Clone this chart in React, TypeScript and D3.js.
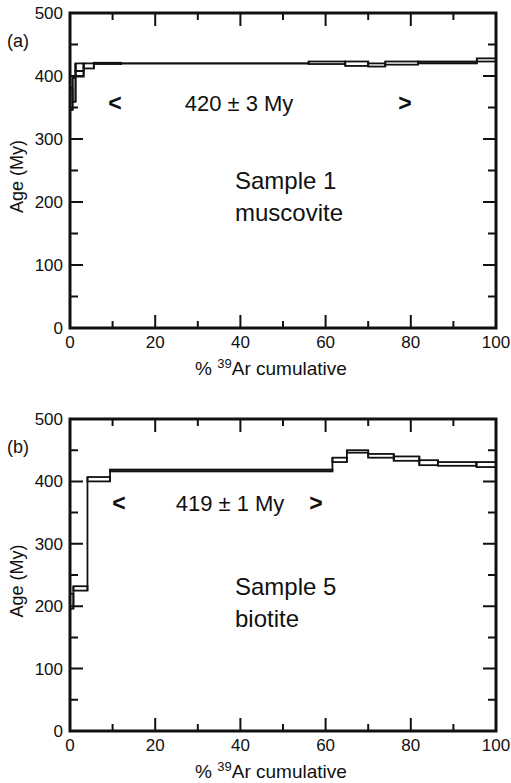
import React from 'react';
import * as d3 from 'd3';

// panel (a) – sample 1 muscovite, step boxes (cumulative % 39Ar, age range in My)
const startA = [0, 0.6, 1.3, 1.3, 3.2, 5.6, 12, 56, 64.6, 70, 74, 81.7, 95.5];
const endA = [0.6, 1.3, 3.2, 3.2, 5.6, 12, 56, 64.6, 70, 74, 81.7, 95.5, 100];
const loA = [346, 359, 408, 399, 412, 419, 419.7, 419, 416, 415, 418, 420, 423];
const hiA = [381, 397, 420, 408, 420, 421, 420.3, 423, 423, 420, 423, 423, 428];

// panel (b) – sample 5 biotite
const startB = [0, 0.8, 4.1, 9.4, 61.6, 65, 70, 76, 82, 86.4, 95.4];
const endB = [0.8, 4.1, 9.4, 61.6, 65, 70, 76, 82, 86.4, 95.4, 100];
const loB = [196, 225, 400, 416, 431, 446, 438, 433, 426, 425, 423];
const hiB = [220, 232, 407, 419, 438, 450, 444, 440, 434, 431, 431];

const xTicks = [0, 20, 40, 60, 80, 100];
const yTicks = [0, 100, 200, 300, 400, 500];
const xMinor = [10, 20, 30, 40, 50, 60, 70, 80, 90];
const yMinor = [50, 100, 150, 200, 250, 300, 350, 400, 450];

const font = 'Liberation Sans, Arial, sans-serif';
const ink = '#111';
const left = 70, right = 496;

function Panel(props: any) {
  const { top, bottom, starts, ends, lo, hi, tag, plateau, ltX, gtX, plateauX, sample, mineral, annY } = props;
  const x = d3.scaleLinear().domain([0, 100]).range([left, right]);
  const y = d3.scaleLinear().domain([0, 500]).range([bottom, top]);

  return (
    <g>
      {/* step boxes */}
      {starts.map((s: number, i: number) => (
        <g key={'s' + i} fill="none" stroke={ink} strokeWidth={1.8}>
          <rect x={x(s)} y={y(hi[i])} width={x(ends[i]) - x(s)} height={Math.max(0.1, y(lo[i]) - y(hi[i]))} />
          {i > 0 && (
            <line x1={x(s)} x2={x(s)}
              y1={y(Math.min(lo[i - 1], lo[i]))} y2={y(Math.max(hi[i - 1], hi[i]))} />
          )}
        </g>
      ))}

      {/* frame */}
      <rect x={left} y={top} width={right - left} height={bottom - top} fill="none" stroke={ink} strokeWidth={3} />

      {/* ticks inside the frame */}
      {xMinor.map(v => {
        const len = v % 20 === 0 ? 13 : 7;
        const px = x(v);
        return (
          <path key={'x' + v} d={`M${px},${bottom}V${bottom - len}M${px},${top}V${top + len}`}
            stroke={ink} strokeWidth={2} fill="none" />
        );
      })}
      {yMinor.map(v => {
        const len = v % 100 === 0 ? 13 : 8;
        const py = y(v);
        return (
          <path key={'y' + v} d={`M${left},${py}H${left + len}M${right},${py}H${right - len}`}
            stroke={ink} strokeWidth={2} fill="none" />
        );
      })}

      {xTicks.map(v => (
        <text key={'xl' + v} x={x(v)} y={bottom + 20} textAnchor="middle" fontSize={17} fontFamily={font} fill={ink}>{v}</text>
      ))}
      {yTicks.map(v => (
        <text key={'yl' + v} x={63} y={y(v)} dy="0.35em" textAnchor="end" fontSize={17} fontFamily={font} fill={ink}>{v}</text>
      ))}

      <text x={271} y={bottom + 47} textAnchor="middle" fontSize={19} fontFamily={font} fill={ink}>
        <tspan>% </tspan>
        <tspan fontSize={13} dy={-7}>39</tspan>
        <tspan dy={7}>Ar cumulative</tspan>
      </text>
      <text transform={`translate(23,${(top + bottom) / 2 + 6}) rotate(-90)`} textAnchor="middle"
        fontSize={18} fontFamily={font} fill={ink}>Age (My)</text>
      <text x={7} y={top + 34} fontSize={18} fontFamily={font} fill={ink}>{tag}</text>

      {/* plateau annotation */}
      <text x={ltX} y={annY} textAnchor="middle" fontSize={23} fontWeight="bold" fontFamily={font} fill={ink}>{'<'}</text>
      <text x={gtX} y={annY} textAnchor="middle" fontSize={23} fontWeight="bold" fontFamily={font} fill={ink}>{'>'}</text>
      <text x={plateauX} y={annY} textAnchor="middle" fontSize={22} fontFamily={font} fill={ink}>{plateau}</text>

      <text x={235} y={top + 176} fontSize={24} fontFamily={font} fill={ink}>{sample}</text>
      <text x={235} y={top + 208} fontSize={24} fontFamily={font} fill={ink}>{mineral}</text>
    </g>
  );
}

function App() {
  return (
    <svg width={511} height={783} style={{ position: 'absolute', left: 0, top: 0, background: '#fff' }}>
      <Panel top={13} bottom={328} starts={startA} ends={endA} lo={loA} hi={hiA} tag="(a)"
        plateau="420 ± 3 My" ltX={115} gtX={405} plateauX={239} sample="Sample 1" mineral="muscovite" annY={111} />
      <Panel top={419} bottom={731} starts={startB} ends={endB} lo={loB} hi={hiB} tag="(b)"
        plateau="419 ± 1 My" ltX={119} gtX={316} plateauX={230} sample="Sample 5" mineral="biotite" annY={511} />
    </svg>
  );
}

export default App;
